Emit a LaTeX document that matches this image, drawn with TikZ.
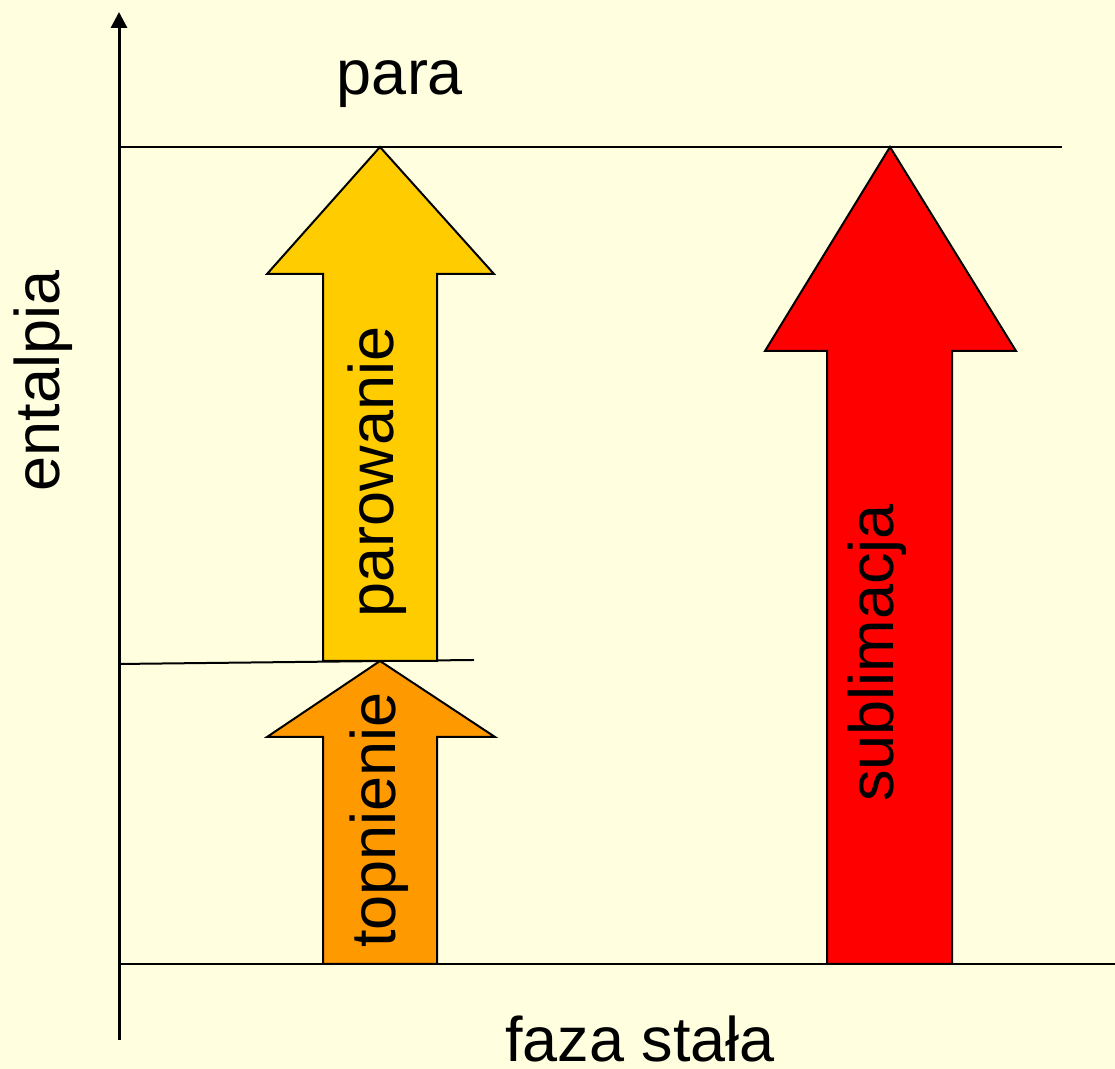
\documentclass[tikz,border=0pt]{standalone}
\usepackage{fontspec}
\setmainfont{Liberation Sans}
\usetikzlibrary{arrows.meta}

\definecolor{paper}{HTML}{FFFFE0}
\definecolor{meltorange}{HTML}{FF9900}
\definecolor{boilyellow}{HTML}{FFCC00}
\definecolor{sublred}{HTML}{FF0000}

\begin{document}
\begin{tikzpicture}[
    x=0.5pt, y=0.5pt,
    >={Triangle[width=8pt,length=8pt]},
    every node/.style={font=\fontsize{31.5}{38}\selectfont, inner sep=0pt},
    level/.style={line width=1pt, black},
    axis/.style={->, line width=1.5pt, black},
    blockarrow/.style={draw=black, line width=1pt, line join=miter},
    sidelabel/.style={rotate=90, anchor=base},
]

% ---- Background / page size ----
\fill[paper] (0,0) rectangle (1115,1069);
\useasboundingbox (0,0) rectangle (1115,1069);

% ---- Enthalpy axis and levels ----
\coordinate (origin) at (119,29);
\coordinate (ytip) at (119,1057);
\draw[axis] (origin) -- (ytip);

\coordinate (solidL) at (119,105);
\coordinate (solidR) at (1115,105);
\coordinate (liquidL) at (119,405);
\coordinate (liquidR) at (474,409);
\coordinate (vapourL) at (119,922);
\coordinate (vapourR) at (1062,922);
\draw[level] (solidL) -- (solidR);
\draw[level] (liquidL) -- (liquidR);
\draw[level] (vapourL) -- (vapourR);

% ---- Block arrows ----
% melting
\filldraw[blockarrow, fill=meltorange] (323,105) -- (323,332) -- (267,332) -- (380,408)
    -- (495,332) -- (437,332) -- (437,105) -- cycle;
% vaporisation
\filldraw[blockarrow, fill=boilyellow] (323,408) -- (323,795) -- (267,795) -- (380,922)
    -- (494,795) -- (437,795) -- (437,408) -- cycle;
% sublimation
\filldraw[blockarrow, fill=sublred] (827,105) -- (827,718) -- (765,718) -- (890,922)
    -- (1016,718) -- (952,718) -- (952,105) -- cycle;

% ---- Labels ----
\node[anchor=base] (vapour) at (400,974) {para};
\node[anchor=base] (solid) at (640,7) {faza stała};
\node[sidelabel] (enthalpy) at (60,688) {entalpia};
\node[sidelabel] (boiling) at (393,597) {parowanie};
\node[sidelabel] (melting) at (395,249) {topnienie};
\node[sidelabel] (sublimation) at (893,416) {sublimacja};

\end{tikzpicture}
\end{document}
